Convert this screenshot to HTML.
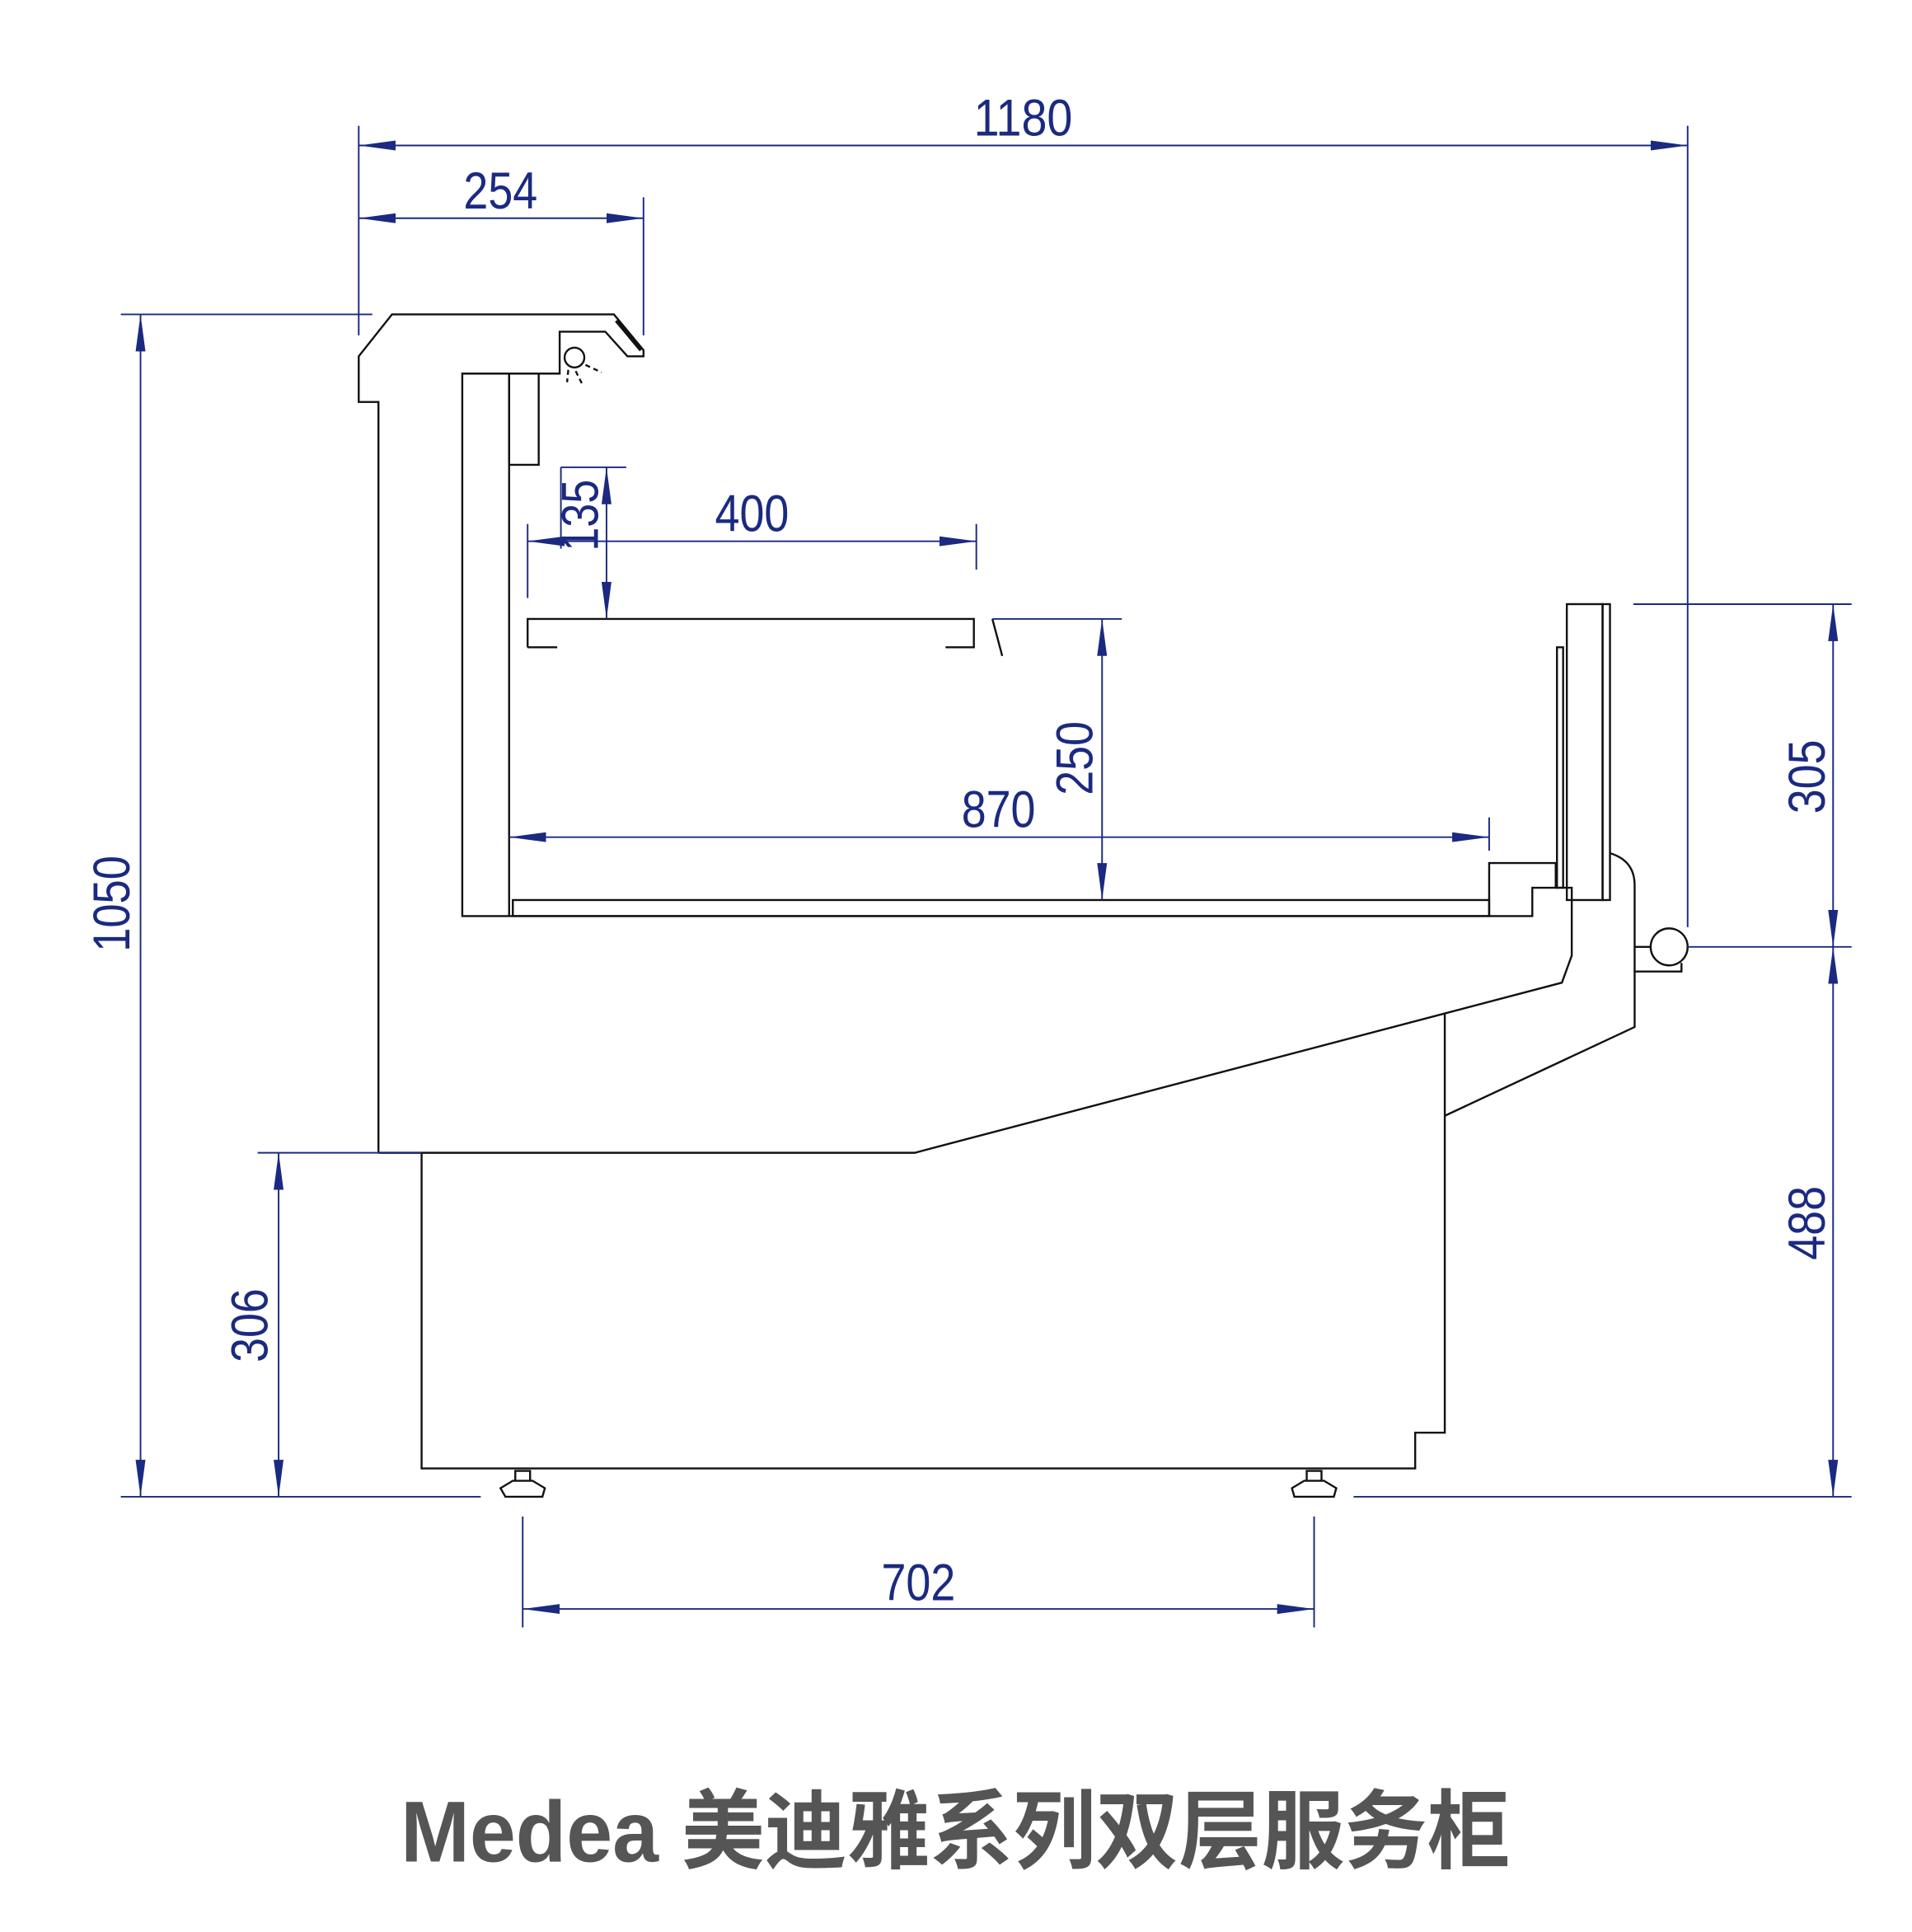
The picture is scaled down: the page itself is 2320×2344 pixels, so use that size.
<!DOCTYPE html>
<html><head><meta charset="utf-8"><style>html,body{margin:0;padding:0;background:#fff}svg{display:block}</style></head>
<body>
<svg width="2320" height="2344" viewBox="0 0 1551 1567" preserveAspectRatio="none" xmlns="http://www.w3.org/2000/svg">
<defs>
<marker id="a" viewBox="0 0 30 10" refX="30" refY="5" markerWidth="30" markerHeight="10" markerUnits="userSpaceOnUse" orient="auto-start-reverse">
<path d="M0,1 L30,5 L0,9 Z" fill="#1b2a80"/></marker>
</defs>
<rect width="1560" height="1576" fill="#fff"/>
<g fill="none" stroke="#111" stroke-width="1.6">
<path d="M307,935 L307,326 L291,326 L291,289 L318,255 L498,255 L522,284 L522,289 L509,289 L491,269 L454,269 L454,303 L375,303 L375,743 L1243,743 L1243,720 L1262,720 L1262,700 L1208,700 L1208,743"/>
<path d="M413,303 L413,743"/>
<rect x="413" y="303" width="24" height="74"/>
<path d="M500,260 L520,284" stroke-width="3"/>
<circle cx="466" cy="290" r="8"/>
<path d="M461,300 L460,310 M467,301 L472,311 M475,296 L488,302" stroke-dasharray="4,3"/>
<rect x="416" y="730" width="792" height="13"/>
<path d="M1262,720 L1275,720 L1275,775 L1267,797 L1172,822 L742,935 L307,935"/>
<path d="M342,935 L342,1191 L1148,1191 L1148,1162 L1172,1162 L1172,822"/>
<path d="M1172,905 L1326,833 L1326,718 Q1326,698 1306,692"/>
<rect x="1271" y="490" width="29" height="240"/>
<rect x="1300" y="490" width="6" height="240"/>
<rect x="1263" y="525" width="5" height="195"/>
<circle cx="1354" cy="768" r="15"/>
<path d="M1326,768 L1339,768 M1326,788 L1364,788 L1364,781"/>
<path d="M428,525 L428,502 L790,502 L790,525 L767,525 M428,525 L452,525 M805,502 L813,532"/>
<path d="M410,1214 L406,1207 L416,1201 L432,1201 L442,1207 L440,1214 Z M418,1201 L418,1193 L430,1193 L430,1201"/>
<path d="M1050,1214 L1048,1207 L1058,1201 L1074,1201 L1084,1207 L1082,1214 Z M1060,1201 L1060,1193 L1072,1193 L1072,1201"/>
</g>
<g fill="none" stroke="#1b2a80" stroke-width="1.3">
<path d="M291,102 L291,272 M1369,102 L1369,752 M522,160 L522,272 M98,255 L302,255 M98,1214 L390,1214 M1098,1214 L1502,1214 M209,935 L342,935 M1325,490 L1502,490 M1368,768 L1502,768 M424,1230 L424,1320 M1066,1230 L1066,1320 M428,425 L428,485 M792,425 L792,462 M455,379 L508,379 M455,379 L455,445 M805,502 L910,502 M1208,663 L1208,690"/>
<line x1="291" y1="118" x2="1369" y2="118" marker-start="url(#a)" marker-end="url(#a)"/>
<line x1="291" y1="177" x2="522" y2="177" marker-start="url(#a)" marker-end="url(#a)"/>
<line x1="114" y1="255" x2="114" y2="1214" marker-start="url(#a)" marker-end="url(#a)"/>
<line x1="226" y1="935" x2="226" y2="1214" marker-start="url(#a)" marker-end="url(#a)"/>
<line x1="1487" y1="490" x2="1487" y2="768" marker-start="url(#a)" marker-end="url(#a)"/>
<line x1="1487" y1="768" x2="1487" y2="1214" marker-start="url(#a)" marker-end="url(#a)"/>
<line x1="424" y1="1305" x2="1066" y2="1305" marker-start="url(#a)" marker-end="url(#a)"/>
<line x1="428" y1="439" x2="792" y2="439" marker-start="url(#a)" marker-end="url(#a)"/>
<line x1="492" y1="379" x2="492" y2="502" marker-start="url(#a)" marker-end="url(#a)"/>
<line x1="894" y1="502" x2="894" y2="730" marker-start="url(#a)" marker-end="url(#a)"/>
<line x1="413" y1="679" x2="1208" y2="679" marker-start="url(#a)" marker-end="url(#a)"/>
</g>
<g fill="#1b2a80" font-family="'Liberation Sans', sans-serif" font-size="42" text-anchor="middle">
<text x="830" y="110" textLength="80" lengthAdjust="spacingAndGlyphs">1180</text>
<text x="406" y="169" textLength="60" lengthAdjust="spacingAndGlyphs">254</text>
<text x="610" y="431" textLength="60" lengthAdjust="spacingAndGlyphs">400</text>
<text x="810" y="671" textLength="60" lengthAdjust="spacingAndGlyphs">870</text>
<text x="745" y="1298" textLength="60" lengthAdjust="spacingAndGlyphs">702</text>
<text transform="translate(105,733) rotate(-90)" textLength="78" lengthAdjust="spacingAndGlyphs">1050</text>
<text transform="translate(217,1075) rotate(-90)" textLength="60" lengthAdjust="spacingAndGlyphs">306</text>
<text transform="translate(1480,630) rotate(-90)" textLength="60" lengthAdjust="spacingAndGlyphs">305</text>
<text transform="translate(1480,992) rotate(-90)" textLength="60" lengthAdjust="spacingAndGlyphs">488</text>
<text transform="translate(886,615) rotate(-90)" textLength="60" lengthAdjust="spacingAndGlyphs">250</text>
<text transform="translate(485,418) rotate(-90)" textLength="58" lengthAdjust="spacingAndGlyphs">135</text>
</g>
<text x="775" y="1510" text-anchor="middle" font-family="'Liberation Sans','Noto Sans CJK SC',sans-serif" font-weight="bold" font-size="70" fill="#555" textLength="900" lengthAdjust="spacingAndGlyphs">Medea 美迪雅系列双层服务柜</text>
</svg>
</body></html>
